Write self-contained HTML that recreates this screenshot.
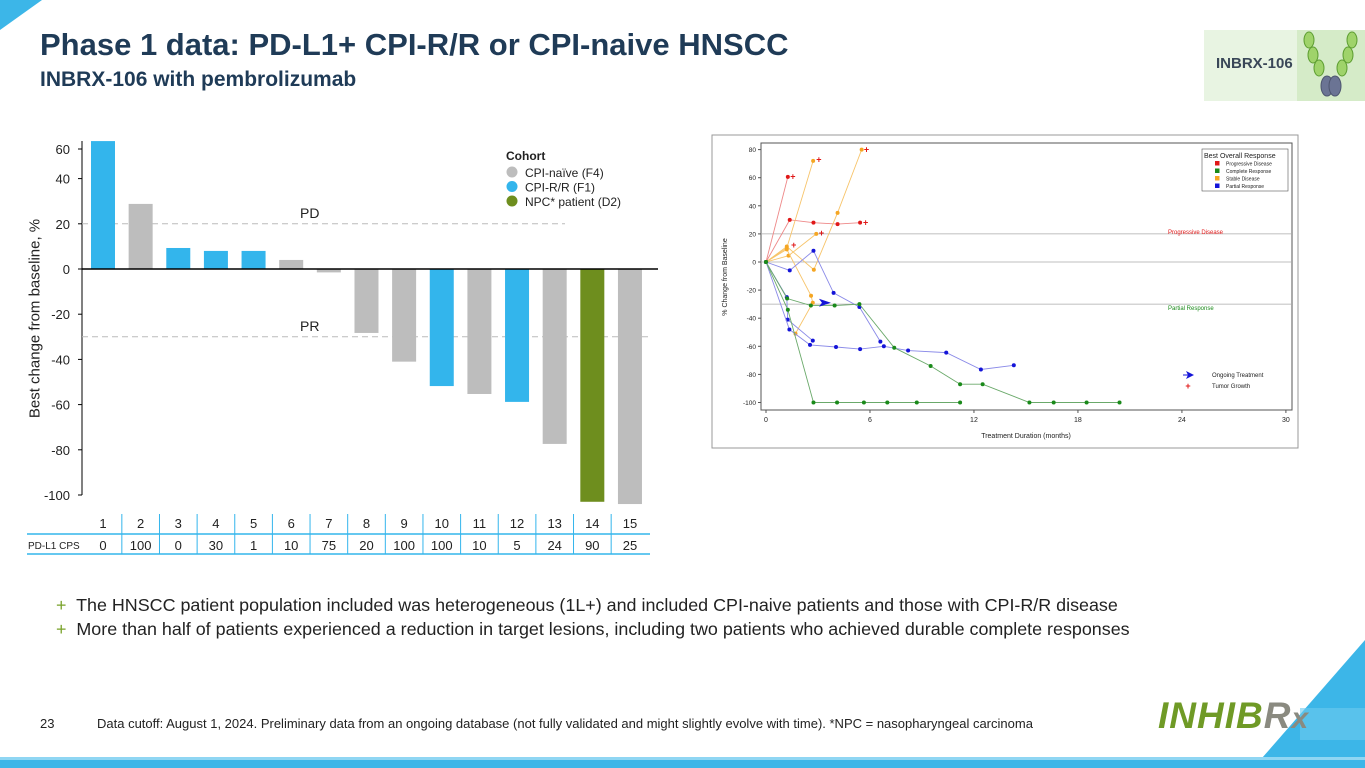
<!DOCTYPE html>
<html><head><meta charset="utf-8"><style>
body{margin:0;width:1365px;height:768px;overflow:hidden;background:#fff;font-family:"Liberation Sans",sans-serif;position:relative}
.t{position:absolute;white-space:nowrap}
</style></head><body>
<svg width="1365" height="768" style="position:absolute;left:0;top:0">
<polygon points="0,0 42,0 0,30" fill="#3cb6e8"/>
<polygon points="1365,640 1365,758 1262,758" fill="#3cb6e8"/>
<polygon points="1300,708 1365,708 1365,740 1300,740" fill="#6cc9ef" opacity="0.6"/>
<rect x="0" y="757" width="1365" height="11" fill="#3cb6e8"/>
<rect x="0" y="757" width="1365" height="3" fill="#8fd6f3"/>
</svg>
<div class="t" style="left:40px;top:27px;font-size:31px;font-weight:bold;color:#1f3b57">Phase 1 data: PD-L1+ CPI-R/R or CPI-naive HNSCC</div>
<div class="t" style="left:40px;top:68px;font-size:21px;font-weight:bold;color:#1f3b57">INBRX-106 with pembrolizumab</div>
<div style="position:absolute;left:1204px;top:30px;width:161px;height:71px;background:#e8f4e2">
<div class="t" style="left:12px;top:25px;font-size:15px;font-weight:bold;color:#3a4758">INBRX-106</div>
<div style="position:absolute;left:93px;top:0;width:68px;height:71px;background:#d5ebc8">
<svg width="68" height="71"><g fill="#9fd36a" stroke="#5e9e32"><ellipse cx="12" cy="10" rx="5" ry="8"/><ellipse cx="16" cy="25" rx="5" ry="8"/><ellipse cx="22" cy="38" rx="5" ry="8"/><ellipse cx="55" cy="10" rx="5" ry="8"/><ellipse cx="51" cy="25" rx="5" ry="8"/><ellipse cx="45" cy="38" rx="5" ry="8"/></g><g fill="#6b7494" stroke="#4d556f"><ellipse cx="30" cy="56" rx="6" ry="10"/><ellipse cx="38" cy="56" rx="6" ry="10"/></g></svg></div></div>

<svg id="wf" width="680" height="570" style="position:absolute;left:0;top:0"></svg>
<div class="t" style="left:-80px;top:310px;font-size:15px;color:#222;transform:rotate(-90deg);width:230px;text-align:center">Best change from baseline, %</div>

<svg id="sp" width="1365" height="460" style="position:absolute;left:0;top:0"></svg>

<div class="t" style="left:56px;top:595px;font-size:17.9px;color:#222"><span style="color:#79a22a">+</span>&nbsp; The HNSCC patient population included was heterogeneous (1L+) and included CPI-naive patients and those with CPI-R/R disease</div>
<div class="t" style="left:56px;top:619px;font-size:17.9px;color:#222"><span style="color:#79a22a">+</span>&nbsp; More than half of patients experienced a reduction in target lesions, including two patients who achieved durable complete responses</div>
<div class="t" style="left:40px;top:716px;font-size:13px;color:#222">23</div>
<div class="t" style="left:97px;top:716px;font-size:13px;color:#222">Data cutoff: August 1, 2024. Preliminary data from an ongoing database (not fully validated and might slightly evolve with time). *NPC = nasopharyngeal carcinoma</div>
<div class="t" style="left:1158px;top:695px;font-size:37px;font-weight:bold;font-style:italic;color:#6f9a26;letter-spacing:1px">INHIB<span style="color:#8a8a80">R</span><span style="color:#8a8a80;font-size:30px">x</span></div>

<script>
const NS='http://www.w3.org/2000/svg';
function mk(p,tag,at,txt){const e=document.createElementNS(NS,tag);for(const k in at)e.setAttribute(k,at[k]);if(txt!=null)e.textContent=txt;p.appendChild(e);return e;}
// ---- Waterfall ----
const patients=['1','2','3','4','5','6','7','8','9','10','11','12','13','14','15'];
const bestChange=[56.6,28.8,9.3,8,8,4,-1.5,-28.3,-41,-51.8,-55.3,-58.8,-77.4,-103,-104];
const cohort=['R','N','R','R','R','N','N','N','N','R','N','R','N','P','N'];
const cps=['0','100','0','30','1','10','75','20','100','100','10','5','24','90','25'];
const yTicks=[-100,-80,-60,-40,-20,0,20,40,60];
const cohortColor={N:'#bdbdbd',R:'#33b5ec',P:'#6e8e1e'};
const wf=document.getElementById('wf');
const wy=v=>269-v*2.26, wx=i=>103+i*37.64;
mk(wf,'line',{x1:82,y1:141,x2:82,y2:495,stroke:'#000','stroke-width':1});
yTicks.forEach(t=>{const y=t===60?149:wy(t);const e=mk(wf,'text',{x:70,y:y+5,'text-anchor':'end','font-size':13,fill:'#222'},String(t));


mk(wf,'line',{x1:78,y1:y,x2:82,y2:y,stroke:'#000'});});
[[20,'PD'],[-30,'PR']].forEach(([v,l])=>{const y=wy(v);const ln=mk(wf,'line',{x1:82,y1:y,x2:v>0?565:652,y2:y,stroke:'#bbb','stroke-dasharray':'6,4'});


mk(wf,'text',{x:300,y:y-6,'font-size':14,fill:'#222'},l);});
bestChange.forEach((v,i)=>{const y0=wy(0),y1=wy(v);const r=mk(wf,'rect',{x:wx(i)-12,y:Math.min(y0,y1),width:24,height:Math.abs(y1-y0),fill:cohortColor[cohort[i]]});

});
mk(wf,'line',{x1:82,y1:269,x2:658,y2:269,stroke:'#000','stroke-width':1.5});
// table
mk(wf,'line',{x1:27,y1:534,x2:650,y2:534,stroke:'#33b5ec','stroke-width':1.5});
mk(wf,'line',{x1:27,y1:554,x2:650,y2:554,stroke:'#33b5ec','stroke-width':1.5});
mk(wf,'text',{x:28,y:549,'font-size':10,fill:'#222'},'PD-L1 CPS');
patients.forEach((p,i)=>{const x=wx(i);
if(i>0)mk(wf,'line',{x1:x-18.8,y1:514,x2:x-18.8,y2:554,stroke:'#33b5ec'});
const a=mk(wf,'text',{x:x,y:528,'text-anchor':'middle','font-size':13,fill:'#222'},p);


const b=mk(wf,'text',{x:x,y:550,'text-anchor':'middle','font-size':13,fill:'#222'},cps[i]);

});
// legend
mk(wf,'text',{x:506,y:160,'font-size':12,'font-weight':'bold',fill:'#222'},'Cohort');
[['N','CPI-naïve (F4)'],['R','CPI-R/R (F1)'],['P','NPC* patient (D2)']].forEach(([c,l],k)=>{
const g=mk(wf,'g',{});
mk(g,'circle',{cx:512,cy:172+k*14.5,r:5.5,fill:cohortColor[c]});mk(g,'text',{x:525,y:177+k*14.5,'font-size':12,fill:'#222'},l);});

// ---- Spider ----
const spLines=[
{c:'red',pts:[[0,0],[1.26,60.6]],plus:[1.55,61]},
{c:'red',pts:[[0,0],[1.37,30],[2.74,28],[4.13,27],[5.43,28]],plus:[5.75,28]},
{c:'orange',pts:[[0,0],[1.2,10],[2.72,72]],plus:[3.05,73]},
{c:'orange',pts:[[0,0],[1.3,4.5],[2.9,20]],plus:[3.2,20.5]},
{c:'orange',pts:[[0,0],[1.2,11],[2.76,-5.5],[4.13,35],[5.52,80]],plus:[5.8,80]},
{c:'orange',pts:[[0,0],[1.2,9],[2.6,-24],[2.7,-29],[1.7,-51]],plus:[1.6,12]},
{c:'blue',pts:[[0,0],[1.37,-6],[2.74,8],[3.9,-22],[5.39,-32],[6.6,-56.7]],plus:null},
{c:'blue',pts:[[0,0],[1.2,-25],[1.25,-41],[2.7,-56]],plus:null},
{c:'blue',pts:[[0,0],[1.35,-48],[2.54,-59],[4.04,-60.5],[5.43,-62],[6.8,-60],[8.2,-63],[10.4,-64.5],[12.4,-76.5],[14.3,-73.5]],plus:null},
{c:'green',pts:[[0,0],[1.22,-26],[2.59,-31],[3.96,-31],[5.39,-30],[7.4,-61],[9.5,-74],[11.2,-87],[12.5,-87],[15.2,-100],[16.6,-100],[18.5,-100],[20.4,-100]],plus:null},
{c:'green',pts:[[0,0],[1.26,-34],[2.74,-100],[4.1,-100],[5.65,-100],[7.0,-100],[8.7,-100],[11.2,-100]],plus:null}];
const xTicksSp=[0,6,12,18,24,30];
const yTicksSp=[-100,-80,-60,-40,-20,0,20,40,60,80];
const arrowAt=[3.4,-29];
const spColor={red:'#e01818',orange:'#f5a623',blue:'#1414d8',green:'#1a8a1a'};
const spLine={red:'#ee8888',orange:'#f7c46a',blue:'#8a8ae8',green:'#6aa96a'};
const sp=document.getElementById('sp');
const sx=m=>766+m*17.33, sy=v=>262-v*1.405;
mk(sp,'rect',{x:712,y:135,width:586,height:313,fill:'#fff',stroke:'#999'});
mk(sp,'rect',{x:761,y:143,width:531,height:267,fill:'none',stroke:'#555'});
[20,0,-30].forEach(v=>mk(sp,'line',{x1:761,y1:sy(v),x2:1292,y2:sy(v),stroke:'#aaa','stroke-width':0.8}));
mk(sp,'text',{x:1168,y:234,'font-size':6,fill:'#e01818'},'Progressive Disease');
mk(sp,'text',{x:1168,y:310,'font-size':6,fill:'#1a8a1a'},'Partial Response');
xTicksSp.forEach(t=>{mk(sp,'line',{x1:sx(t),y1:410,x2:sx(t),y2:413,stroke:'#555'});mk(sp,'text',{x:sx(t),y:422,'text-anchor':'middle','font-size':7,fill:'#222'},String(t));});
yTicksSp.forEach(t=>{mk(sp,'line',{x1:758,y1:sy(t),x2:761,y2:sy(t),stroke:'#555'});mk(sp,'text',{x:756,y:sy(t)+2.5,'text-anchor':'end','font-size':6.5,fill:'#222'},String(t));});
mk(sp,'text',{x:1026,y:438,'text-anchor':'middle','font-size':7,fill:'#222'},'Treatment Duration (months)');
mk(sp,'text',{x:727,y:277,'text-anchor':'middle','font-size':7,fill:'#222',transform:'rotate(-90 727 277)'},'% Change from Baseline');
spLines.forEach((L,k)=>{const g=mk(sp,'g',{});


mk(g,'polyline',{points:L.pts.map(p=>sx(p[0])+','+sy(p[1])).join(' '),fill:'none',stroke:spLine[L.c],'stroke-width':0.9});
L.pts.forEach(p=>mk(g,'circle',{cx:sx(p[0]),cy:sy(p[1]),r:2,fill:spColor[L.c]}));
if(L.plus)mk(g,'text',{x:sx(L.plus[0]),y:sy(L.plus[1])+3,'text-anchor':'middle','font-size':9,'font-weight':'bold',fill:'#e01818'},'+');});
const ax=sx(arrowAt[0]),ay=sy(arrowAt[1]);
mk(sp,'polygon',{points:`${ax-6},${ay-4} ${ax+6},${ay} ${ax-6},${ay+4} ${ax-3},${ay}`,fill:'#1414d8'});
// legend
mk(sp,'rect',{x:1202,y:149,width:86,height:42,fill:'#fff',stroke:'#555','stroke-width':0.6});
mk(sp,'text',{x:1204,y:158,'font-size':7,fill:'#222'},'Best Overall Response');
[['red','Progressive Disease'],['green','Complete Response'],['orange','Stable Disease'],['blue','Partial Response']].forEach(([c,l],k)=>{
mk(sp,'rect',{x:1215,y:161+k*7.5,width:4.5,height:4.5,fill:spColor[c]});mk(sp,'text',{x:1226,y:165.5+k*7.5,'font-size':5,fill:'#222'},l);});
mk(sp,'polygon',{points:'1186,371 1194,375 1186,379 1188,375',fill:'#1414d8'});
mk(sp,'line',{x1:1183,y1:375,x2:1190,y2:375,stroke:'#1414d8'});
mk(sp,'text',{x:1212,y:377,'font-size':6,fill:'#222'},'Ongoing Treatment');
mk(sp,'text',{x:1188,y:389,'text-anchor':'middle','font-size':9,'font-weight':'bold',fill:'#e01818'},'+');
mk(sp,'text',{x:1212,y:388,'font-size':6,fill:'#222'},'Tumor Growth');
</script>
</body></html>
